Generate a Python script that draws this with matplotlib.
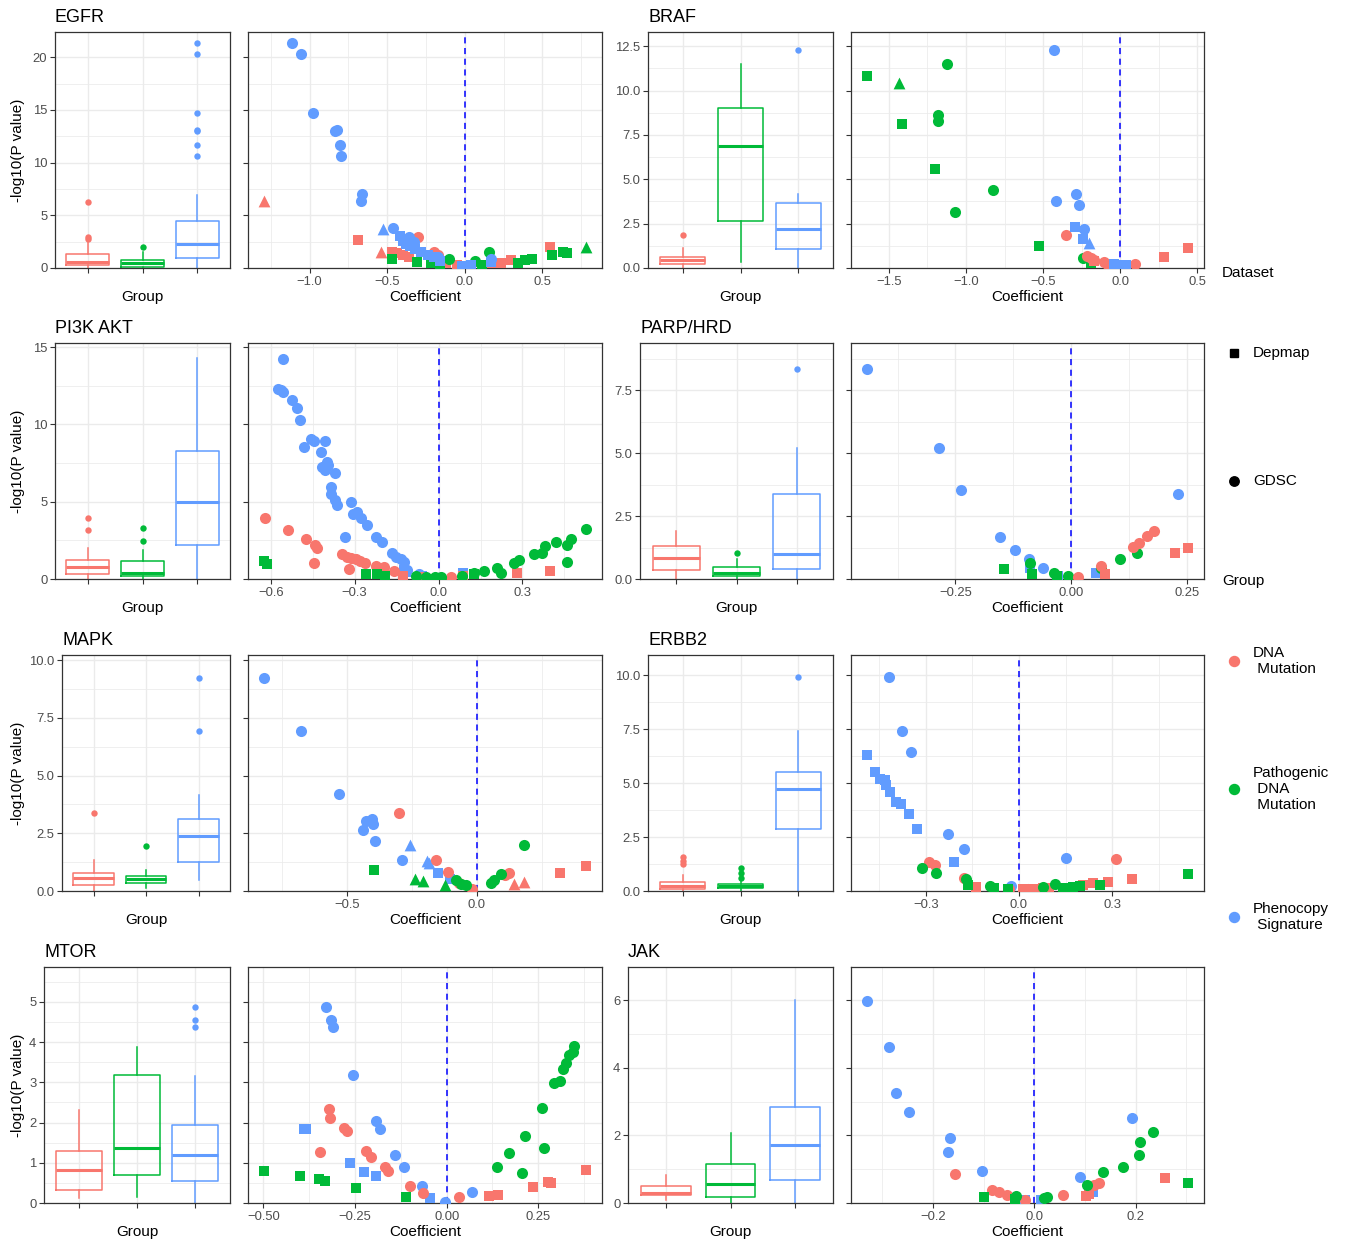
import matplotlib
matplotlib.use("Agg")
import matplotlib.pyplot as plt
import matplotlib.transforms as mtransforms
from matplotlib.lines import Line2D
import numpy as np

plt.rcParams["font.family"] = ["Liberation Sans", "DejaVu Sans"]

# ---- groups / datasets --------------------------------------------------
GROUP_KEYS = ["mut", "path", "sig"]
GROUP_COLORS = {"mut": "#F8766D", "path": "#00BA38", "sig": "#619CFF"}
GROUP_LABELS = ["DNA\n Mutation", "Pathogenic\n DNA\n Mutation", "Phenocopy\n Signature"]
DATASET_LABELS = ["Depmap", "GDSC"]
MARKERS = {"Depmap": "s", "GDSC": "o", "Other": "^"}
SIZES = {"Depmap": 58, "GDSC": 64, "Other": 72}

# ---- volcano points: (coefficient, -log10 p) per (group, dataset) -------
EGFR_POINTS = {
    ("mut", "Depmap"): [(-0.686, 2.68), (-0.47, 1.5), (-0.44, 1.4), (-0.40, 1.2), (-0.36, 1.0),
                        (-0.12, 0.5), (-0.05, 0.3), (0.17, 0.45), (0.23, 0.5), (0.30, 0.75), (0.551, 1.96)],
    ("mut", "Other"): [(-1.293, 6.35), (-0.54, 1.55)],
    ("mut", "GDSC"): [(-0.303, 2.95), (-0.20, 1.5), (-0.17, 1.2)],
    ("path", "Depmap"): [(-0.47, 0.9), (-0.31, 0.6), (-0.22, 0.5), (-0.16, 0.3), (0.11, 0.3), (0.34, 0.45),
                         (0.39, 0.8), (0.43, 0.85), (0.559, 1.23), (0.633, 1.5), (0.66, 1.4)],
    ("path", "GDSC"): [(-0.10, 0.85), (0.066, 0.7), (0.158, 1.55), (0.0, 0.2)],
    ("path", "Other"): [(0.78, 2.0)],
    ("sig", "Depmap"): [(-0.42, 3.0), (-0.40, 2.6), (-0.38, 2.3), (-0.35, 2.1), (-0.32, 1.8), (-0.28, 1.5),
                        (-0.24, 1.2), (-0.20, 1.0), (-0.16, 0.7), (-0.02, 0.2), (0.02, 0.15), (0.04, 0.25),
                        (0.17, 0.6)],
    ("sig", "Other"): [(-0.528, 3.7)],
    ("sig", "GDSC"): [(-1.114, 21.4), (-1.058, 20.3), (-0.979, 14.7), (-0.836, 13.0), (-0.823, 13.1),
                      (-0.803, 11.7), (-0.80, 10.6), (-0.665, 7.0), (-0.671, 6.35), (-0.464, 3.82),
                      (-0.36, 2.9), (-0.33, 2.5), (0.168, 0.85), (-0.17, 1.0)],
}
BRAF_POINTS = {
    ("path", "Depmap"): [(-1.641, 10.81), (-1.415, 8.1), (-1.202, 5.57), (-0.529, 1.26), (-0.19, 0.26)],
    ("path", "Other"): [(-1.432, 10.4)],
    ("path", "GDSC"): [(-1.121, 11.5), (-1.183, 8.6), (-1.179, 8.3), (-0.826, 4.37), (-1.069, 3.15),
                       (-0.243, 0.55)],
    ("mut", "GDSC"): [(-0.35, 1.88), (-0.215, 0.68), (-0.19, 0.55), (-0.17, 0.45), (-0.103, 0.32),
                      (-0.084, 0.24), (0.097, 0.2), (-0.02, 0.1)],
    ("mut", "Depmap"): [(-0.17, 0.4), (0.282, 0.64), (0.439, 1.14)],
    ("sig", "GDSC"): [(-0.43, 12.3), (-0.286, 4.17), (-0.415, 3.76), (-0.269, 3.55), (-0.232, 2.18)],
    ("sig", "Depmap"): [(-0.29, 2.33), (-0.239, 1.65), (-0.04, 0.2), (0.015, 0.17), (0.037, 0.17)],
    ("sig", "Other"): [(-0.205, 1.39)],
}
PI3K_POINTS = {
    ("sig", "GDSC"): [(-0.555, 14.22), (-0.574, 12.28), (-0.565, 12.2), (-0.556, 12.09), (-0.525, 11.55),
                      (-0.507, 11.07), (-0.496, 10.28), (-0.455, 9.03), (-0.444, 8.94), (-0.405, 8.94),
                      (-0.482, 8.55), (-0.42, 8.19), (-0.40, 7.58), (-0.394, 7.37), (-0.417, 7.22),
                      (-0.407, 7.05), (-0.369, 6.83), (-0.383, 5.97), (-0.383, 5.49), (-0.371, 5.1),
                      (-0.362, 4.78), (-0.312, 4.98), (-0.305, 4.18), (-0.29, 4.35), (-0.279, 3.92),
                      (-0.255, 3.49), (-0.333, 2.73), (-0.225, 2.73), (-0.202, 2.41), (-0.165, 1.66),
                      (-0.151, 1.44), (-0.136, 1.27), (-0.124, 1.12), (-0.113, 0.6), (-0.07, 0.3)],
    ("sig", "Depmap"): [(-0.124, 0.58), (-0.115, 0.45), (-0.06, 0.2), (0.088, 0.41)],
    ("mut", "GDSC"): [(-0.62, 3.92), (-0.537, 3.17), (-0.475, 2.57), (-0.443, 2.2), (-0.433, 1.98),
                      (-0.445, 1.05), (-0.344, 1.62), (-0.329, 1.44), (-0.314, 1.34), (-0.296, 1.27),
                      (-0.281, 1.18), (-0.264, 1.05), (-0.32, 0.63), (-0.225, 0.84), (-0.195, 0.76),
                      (-0.159, 0.53), (0.043, 0.15)],
    ("mut", "Depmap"): [(-0.126, 0.19), (-0.07, 0.15), (0.088, 0.19), (0.281, 0.41), (0.40, 0.54)],
    ("path", "Depmap"): [(-0.624, 1.18), (-0.612, 0.97), (-0.261, 0.3), (-0.219, 0.3), (-0.192, 0.22),
                         (0.126, 0.3)],
    ("path", "GDSC"): [(-0.082, 0.22), (-0.045, 0.15), (-0.014, 0.15), (0.0075, 0.11), (0.085, 0.19),
                       (0.126, 0.37), (0.162, 0.54), (0.21, 0.69), (0.225, 0.41), (0.269, 1.05),
                       (0.287, 1.23), (0.34, 1.6), (0.37, 1.66), (0.382, 2.13), (0.421, 2.37),
                       (0.46, 2.2), (0.475, 2.57), (0.527, 3.23), (0.46, 1.12)],
}
PARP_POINTS = {
    ("sig", "GDSC"): [(-0.441, 8.35), (-0.286, 5.19), (-0.238, 3.52), (-0.153, 1.67), (-0.121, 1.15),
                      (-0.092, 0.81), (-0.06, 0.44), (0.231, 3.36)],
    ("sig", "Depmap"): [(-0.09, 0.45), (-0.028, 0.12), (0.053, 0.22)],
    ("path", "GDSC"): [(-0.09, 0.65), (-0.038, 0.22), (-0.008, 0.1), (0.064, 0.42), (0.106, 0.78),
                       (0.142, 1.04)],
    ("path", "Depmap"): [(-0.145, 0.41), (-0.085, 0.2), (-0.03, 0.12)],
    ("mut", "GDSC"): [(0.015, 0.07), (0.064, 0.53), (0.134, 1.27), (0.147, 1.41), (0.164, 1.7),
                      (0.178, 1.89)],
    ("mut", "Depmap"): [(0.072, 0.19), (0.225, 1.04), (0.252, 1.23)],
}
MAPK_POINTS = {
    ("sig", "GDSC"): [(-0.818, 9.22), (-0.677, 6.94), (-0.53, 4.19), (-0.427, 3.04), (-0.404, 3.12),
                      (-0.40, 2.9), (-0.437, 2.64), (-0.39, 2.15), (-0.286, 1.36)],
    ("sig", "Other"): [(-0.256, 1.99), (-0.192, 1.3), (-0.183, 1.2)],
    ("sig", "Depmap"): [(-0.151, 0.79), (-0.104, 0.5)],
    ("mut", "GDSC"): [(-0.30, 3.36), (-0.158, 1.34), (-0.113, 0.82), (-0.068, 0.33), (-0.017, 0.07),
                      (0.109, 0.69), (0.124, 0.79)],
    ("mut", "Other"): [(0.144, 0.29), (0.182, 0.38)],
    ("mut", "Depmap"): [(0.319, 0.79), (0.419, 1.08)],
    ("path", "GDSC"): [(0.18, 1.99), (-0.081, 0.48), (-0.061, 0.3), (-0.042, 0.24), (0.054, 0.33),
                       (0.067, 0.48), (0.092, 0.74)],
    ("path", "Other"): [(-0.238, 0.5), (-0.209, 0.43), (-0.123, 0.26)],
    ("path", "Depmap"): [(-0.395, 0.91)],
}
ERBB2_POINTS = {
    ("sig", "GDSC"): [(-0.418, 9.92), (-0.376, 7.42), (-0.346, 6.42), (-0.229, 2.65), (-0.176, 1.93),
                      (0.151, 1.53), (-0.027, 0.23)],
    ("sig", "Depmap"): [(-0.489, 6.31), (-0.462, 5.52), (-0.446, 5.17), (-0.43, 5.14), (-0.427, 4.91),
                        (-0.414, 4.6), (-0.395, 4.13), (-0.38, 4.01), (-0.353, 3.58), (-0.327, 2.87),
                        (-0.209, 1.33)],
    ("mut", "GDSC"): [(-0.288, 1.33), (-0.27, 1.19), (-0.176, 0.62), (0.313, 1.48), (-0.032, 0.1),
                      (0.03, 0.08)],
    ("mut", "Depmap"): [(-0.138, 0.2), (0.013, 0.07), (0.045, 0.1), (0.077, 0.15), (0.098, 0.15),
                        (0.206, 0.28), (0.238, 0.36), (0.287, 0.4), (0.365, 0.56)],
    ("path", "GDSC"): [(-0.312, 1.08), (-0.267, 0.82), (-0.17, 0.54), (-0.093, 0.23), (0.076, 0.2),
                       (0.116, 0.31)],
    ("path", "Depmap"): [(-0.165, 0.28), (-0.08, 0.12), (-0.036, 0.09), (0.142, 0.14), (0.174, 0.2),
                         (0.195, 0.23), (0.26, 0.28), (0.544, 0.79)],
}
MTOR_POINTS = {
    ("sig", "GDSC"): [(-0.328, 4.88), (-0.316, 4.55), (-0.309, 4.37), (-0.256, 3.18), (-0.194, 2.04),
                      (-0.181, 1.83), (-0.14, 1.19), (-0.115, 0.9), (-0.067, 0.42), (-0.005, 0.03),
                      (0.07, 0.28)],
    ("sig", "Depmap"): [(-0.39, 1.83), (-0.384, 1.83), (-0.263, 1.0), (-0.226, 0.78), (-0.194, 0.67),
                        (-0.044, 0.12)],
    ("mut", "GDSC"): [(-0.322, 2.33), (-0.318, 2.12), (-0.279, 1.86), (-0.272, 1.79), (-0.345, 1.28),
                      (-0.22, 1.29), (-0.205, 1.14), (-0.169, 0.89), (-0.16, 0.8), (-0.1, 0.42),
                      (-0.065, 0.26), (0.034, 0.14)],
    ("mut", "Depmap"): [(0.116, 0.18), (0.14, 0.2), (0.235, 0.41), (0.276, 0.53), (0.285, 0.5),
                        (0.38, 0.82)],
    ("path", "Depmap"): [(-0.498, 0.8), (-0.4, 0.67), (-0.348, 0.59), (-0.331, 0.55), (-0.247, 0.38),
                         (-0.112, 0.16)],
    ("path", "GDSC"): [(0.137, 0.9), (0.171, 1.24), (0.214, 1.67), (0.205, 0.74), (0.26, 2.36),
                       (0.265, 1.36), (0.294, 2.98), (0.308, 3.04), (0.317, 3.33), (0.326, 3.49),
                       (0.333, 3.68), (0.344, 3.76), (0.347, 3.9)],
}
JAK_POINTS = {
    ("sig", "GDSC"): [(-0.33, 5.98), (-0.286, 4.62), (-0.273, 3.26), (-0.248, 2.68), (-0.167, 1.93),
                      (-0.171, 1.52), (-0.104, 0.96), (0.09, 0.78), (0.192, 2.51)],
    ("sig", "Depmap"): [(-0.018, 0.09), (0.013, 0.09), (0.115, 0.32)],
    ("mut", "GDSC"): [(-0.156, 0.86), (-0.084, 0.38), (-0.069, 0.32), (-0.054, 0.24), (-0.018, 0.1),
                      (0.056, 0.24), (0.118, 0.52), (0.128, 0.58)],
    ("mut", "Depmap"): [(0.102, 0.22), (0.107, 0.26), (0.257, 0.73)],
    ("path", "Depmap"): [(-0.1, 0.17), (-0.039, 0.12), (0.303, 0.6)],
    ("path", "GDSC"): [(-0.036, 0.2), (0.02, 0.14), (0.024, 0.17), (0.103, 0.53), (0.136, 0.92),
                       (0.174, 1.07), (0.206, 1.42), (0.209, 1.8), (0.234, 2.1)],
}

# ---- box summaries per group: (whislo, q1, med, q3, whishi, fliers) -------
EGFR_BOX = [(0, 0.3, 0.6, 1.3, 2.5, [2.8, 2.95, 6.3]),
            (0, 0.12, 0.45, 0.76, 1.55, [1.95]),
            (0, 0.92, 2.24, 4.45, 6.9, [10.6, 11.7, 13.0, 13.1, 14.7, 20.3, 21.4])]
BRAF_BOX = [(0, 0.23, 0.45, 0.6, 1.1, [1.86]),
            (0.32, 2.66, 6.89, 9.03, 11.49, []),
            (0, 1.07, 2.2, 3.64, 4.15, [12.3])]
PI3K_BOX = [(0, 0.32, 0.78, 1.23, 2.0, [3.17, 3.92]),
            (0, 0.19, 0.39, 1.16, 1.87, [2.46, 3.3]),
            (0, 2.2, 4.98, 8.27, 14.3, [])]
PARP_BOX = [(0, 0.36, 0.83, 1.31, 1.9, []),
            (0, 0.12, 0.24, 0.48, 0.8, [1.05]),
            (0, 0.4, 0.99, 3.37, 5.2, [8.35])]
MAPK_BOX = [(0, 0.25, 0.55, 0.79, 1.34, [3.36]),
            (0.14, 0.33, 0.5, 0.66, 0.91, [1.96]),
            (0.48, 1.27, 2.39, 3.1, 4.16, [6.94, 9.22])]
ERBB2_BOX = [(0, 0.09, 0.23, 0.42, 0.74, [1.25, 1.39, 1.57]),
             (0, 0.14, 0.23, 0.32, 0.5, [0.62, 0.85, 1.08]),
             (0, 2.87, 4.72, 5.52, 7.42, [9.92])]
MTOR_BOX = [(0.12, 0.33, 0.81, 1.29, 2.31, []),
            (0.16, 0.69, 1.36, 3.18, 3.89, []),
            (0, 0.55, 1.19, 1.94, 3.17, [4.37, 4.55, 4.88])]
JAK_BOX = [(0.1, 0.24, 0.3, 0.5, 0.83, []),
           (0, 0.18, 0.56, 1.15, 2.07, []),
           (0, 0.68, 1.72, 2.84, 6.0, [])]

# ---- panel setup: name, points, box, y-top, y-ticks, y decimals, x-ticks, x decimals
PANELS = [
    ("EGFR", EGFR_POINTS, EGFR_BOX, 22.4, [0, 5, 10, 15, 20], 0, [-1.0, -0.5, 0.0, 0.5], 1),
    ("BRAF", BRAF_POINTS, BRAF_BOX, 13.3, [0, 2.5, 5, 7.5, 10, 12.5], 1, [-1.5, -1.0, -0.5, 0.0, 0.5], 1),
    ("PI3K AKT", PI3K_POINTS, PI3K_BOX, 15.26, [0, 5, 10, 15], 0, [-0.6, -0.3, 0.0, 0.3], 1),
    ("PARP/HRD", PARP_POINTS, PARP_BOX, 9.37, [0, 2.5, 5, 7.5], 1, [-0.25, 0.0, 0.25], 2),
    ("MAPK", MAPK_POINTS, MAPK_BOX, 10.22, [0, 2.5, 5, 7.5, 10], 1, [-0.5, 0.0], 1),
    ("ERBB2", ERBB2_POINTS, ERBB2_BOX, 10.93, [0, 2.5, 5, 7.5, 10], 1, [-0.3, 0.0, 0.3], 1),
    ("MTOR", MTOR_POINTS, MTOR_BOX, 5.87, [0, 1, 2, 3, 4, 5], 0, [-0.5, -0.25, 0.0, 0.25], 2),
    ("JAK", JAK_POINTS, JAK_BOX, 6.98, [0, 2, 4, 6], 0, [-0.2, 0.0, 0.2], 1),
]

# layout in pixels
W, H = 1346, 1239
ROW_Y = [(32, 268), (343, 579), (655, 891), (967, 1203)]
BOX_LEFT = [55, 648, 55, 640, 62, 648, 44, 628]
BOX_RIGHT = [230, 833]
VOL_X = [(248, 602), (851, 1204)]

GRID = "#EBEBEB"
DARK = "#333333"
TICK_TXT = "#4D4D4D"


def rect(x0, y0, x1, y1):
    return [x0 / W, 1 - y1 / H, (x1 - x0) / W, (y1 - y0) / H]


def fmt(v, nd):
    return f"{v:.{nd}f}".replace("-", "\u2212")


def minor_ticks(major, lo, hi):
    step = major[1] - major[0]
    cand = np.arange(major[0] - step / 2, major[-1] + step, step)
    return [c for c in cand if lo <= c <= hi]


def style_axes(ax):
    for s in ax.spines.values():
        s.set_color(DARK)
        s.set_linewidth(0.9)
    ax.tick_params(which="major", length=3.5, width=0.8, color=DARK, labelsize=9.4,
                   labelcolor=TICK_TXT, pad=2)
    ax.tick_params(which="minor", length=0)
    ax.set_axisbelow(True)


fig = plt.figure(figsize=(W / 100, H / 100), dpi=100)

for i, (name, points, box, ytop, yticks, ynd, xticks, xnd) in enumerate(PANELS):
    row, col = divmod(i, 2)
    y0, y1 = ROW_Y[row]
    ax_b = fig.add_axes(rect(BOX_LEFT[i], y0, BOX_RIGHT[col], y1))
    ax_v = fig.add_axes(rect(VOL_X[col][0], y0, VOL_X[col][1], y1))

    # box plot
    for k, g in enumerate(GROUP_KEYS):
        lo, q1, med, q3, hi, fl = box[k]
        c = GROUP_COLORS[g]
        ax_b.bxp([dict(whislo=lo, q1=q1, med=med, q3=q3, whishi=hi, fliers=fl)],
                 positions=[k + 1], widths=0.78, showcaps=False,
                 boxprops=dict(color=c, lw=1.1), whiskerprops=dict(color=c, lw=1.1),
                 medianprops=dict(color=c, lw=2.2, solid_capstyle="butt"),
                 flierprops=dict(marker="o", markerfacecolor=c, markeredgecolor="none",
                                 markersize=4.6))
    ax_b.set_xlim(0.4, 3.6)
    ax_b.set_xticks([1, 2, 3])
    ax_b.set_xticklabels([])
    ax_b.set_ylim(0, ytop)
    ax_b.set_yticks(yticks)
    ax_b.set_yticklabels([fmt(t, ynd) for t in yticks])
    ax_b.set_yticks(minor_ticks(yticks, 0, ytop), minor=True)
    ax_b.grid(which="major", color=GRID, lw=1.0)
    ax_b.grid(which="minor", axis="y", color=GRID, lw=0.55)
    style_axes(ax_b)
    ax_b.set_xlabel("Group", fontsize=11)
    ax_b.xaxis.set_label_coords(0.5, -29 / 236)
    ax_b.xaxis.label.set_va("center")
    ax_b.set_title(name, loc="left", fontsize=13, pad=7.5)
    if col == 0:
        ax_b.set_ylabel("-log10(P value)", fontsize=11)
        tr = mtransforms.blended_transform_factory(fig.transFigure, ax_b.transAxes)
        ax_b.yaxis.set_label_coords(18 / W, 0.5, transform=tr)
        ax_b.yaxis.label.set_va("center")

    # volcano
    xs_all = [p[0] for pts in points.values() for p in pts]
    xmin, xmax = min(xs_all), max(xs_all)
    pad = 0.05 * (xmax - xmin)
    for (g, d), pts in points.items():
        xs, ys = zip(*pts)
        ax_v.scatter(xs, ys, s=SIZES[d], marker=MARKERS[d], color=GROUP_COLORS[g],
                     linewidths=0, zorder=3)
    ax_v.axvline(0, color="blue", ls=(0, (4, 3)), lw=1.1, zorder=2)
    ax_v.set_xlim(xmin - pad, xmax + pad)
    ax_v.set_ylim(0, ytop)
    ax_v.set_xticks(xticks)
    ax_v.set_xticklabels([fmt(t, xnd) for t in xticks])
    ax_v.set_xticks(minor_ticks(xticks, xmin - pad, xmax + pad), minor=True)
    ax_v.set_yticks(yticks)
    ax_v.set_yticks(minor_ticks(yticks, 0, ytop), minor=True)
    ax_v.tick_params(labelleft=False)
    ax_v.grid(which="major", color=GRID, lw=1.0)
    ax_v.grid(which="minor", color=GRID, lw=0.55)
    style_axes(ax_v)
    ax_v.set_xlabel("Coefficient", fontsize=11)
    ax_v.xaxis.set_label_coords(0.5, -29 / 236)
    ax_v.xaxis.label.set_va("center")


# ---- legends (drawn in figure pixels) -----------------------------------
def fxy(px, py):
    return px / W, 1 - py / H


fig.text(*fxy(1222, 273), "Dataset", fontsize=11, va="center", ha="left")
for label, py in zip(DATASET_LABELS, [353, 481]):
    fig.add_artist(Line2D([fxy(1234, py)[0]], [fxy(1234, py)[1]], marker=MARKERS[label],
                          color="black", ls="", markersize=6.8 if label == "GDSC" else 6.3,
                          transform=fig.transFigure))
    fig.text(*fxy(1253, py), label, fontsize=11, va="center", ha="left")

fig.text(*fxy(1222, 581), "Group", fontsize=11, va="center", ha="left")
for g, label, py in zip(GROUP_KEYS, GROUP_LABELS, [661, 789, 917]):
    fig.add_artist(Line2D([fxy(1234, py)[0]], [fxy(1234, py)[1]], marker="o",
                          color=GROUP_COLORS[g], ls="", markersize=7.2,
                          transform=fig.transFigure))
    fig.text(*fxy(1253, py), label, fontsize=11, va="center", ha="left", linespacing=1.2)

fig.savefig("out.png", dpi=100)
